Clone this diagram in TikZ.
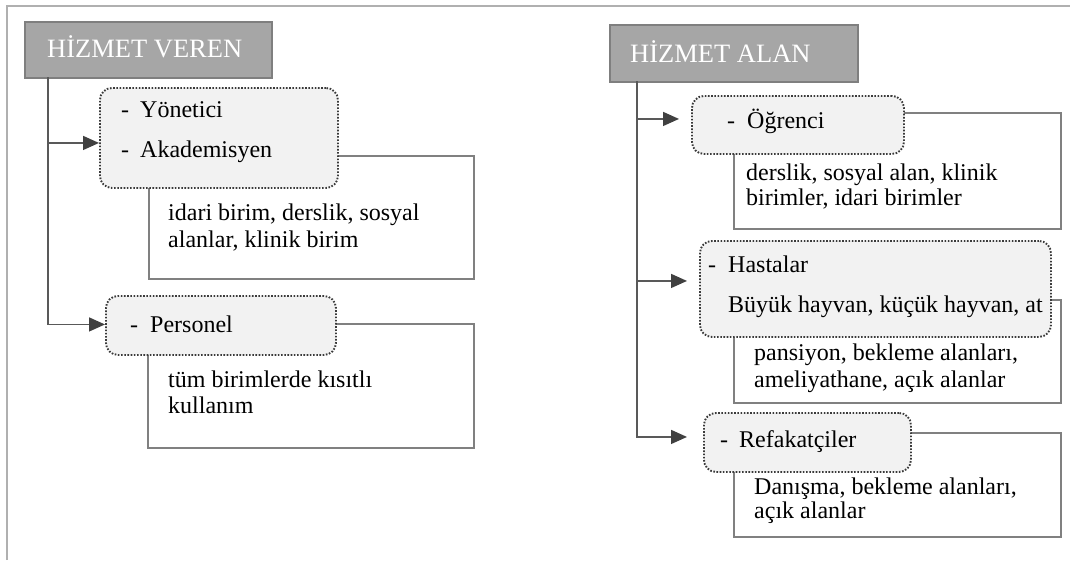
\documentclass[tikz,border=0pt]{standalone}
\usepackage{fontspec}
\setmainfont{Liberation Serif}
\usetikzlibrary{arrows.meta}
\definecolor{hdrfill}{HTML}{A6A6A6}
\definecolor{hdrline}{HTML}{7F7F7F}
\definecolor{rectc}{HTML}{808080}
\definecolor{dotc}{HTML}{3A3A3A}
\definecolor{boxfill}{HTML}{F2F2F2}
\definecolor{connc}{HTML}{595959}
\definecolor{tipc}{HTML}{404040}
\definecolor{framec}{HTML}{B0B0B0}
\begin{document}
\begin{tikzpicture}[x=1pt,y=-1pt,
  hdr/.style={draw=hdrline, line width=2pt, fill=hdrfill, anchor=north west, inner sep=0pt},
  dbox/.style={draw=dotc, line width=1.9pt, dash pattern=on 1.6pt off 1.6pt, fill=boxfill, rounded corners=12pt, anchor=north west, inner sep=0pt},
  rbox/.style={draw=rectc, line width=2pt, anchor=north west, inner sep=0pt},
  txt/.style={anchor=base west, inner sep=0pt, font=\fontsize{24}{27}\selectfont, align=left},
  htxt/.style={anchor=base west, inner sep=0pt, text=white, font=\fontsize{26.5}{30}\selectfont},
  conn/.style={draw=connc, line width=1.5pt},
  arr/.style={conn, -{Triangle[length=16pt,width=14pt,color=tipc]}}]
\useasboundingbox (0,0) rectangle (1070,560);
% outer frame
\draw[framec, line width=2pt] (7,560) -- (7,5.5) -- (1070,5.5);

% ---------- left ----------
\node[hdr, minimum width=247pt, minimum height=56pt] (h1) at (24,21) {};
\node[htxt] (h1t) at (47,57) {HİZMET VEREN};

\node[rbox, minimum width=325pt, minimum height=123pt] (r1) at (148,155) {};
\node[rbox, minimum width=326pt, minimum height=124pt] (r2) at (147,323) {};

\node[dbox, minimum width=238pt, minimum height=100pt] (b1) at (99,87) {};
\node[dbox, minimum width=230pt, minimum height=59pt] (b2) at (105,295) {};

\node[txt] (b1a) at (121,117) {\makebox[19pt][l]{-}Yönetici};
\node[txt] (b1b) at (121,157) {\makebox[19pt][l]{-}Akademisyen};
\node[txt] (b2a) at (130,332) {\makebox[20pt][l]{-}Personel};

\node[txt] (r1t) at (168,220) {idari birim, derslik, sosyal};
\node[txt] (r1u) at (168,247) {alanlar, klinik birim};
\node[txt] (r2t) at (168,387) {tüm birimlerde kısıtlı};
\node[txt] (r2u) at (168,413) {kullanım};

\coordinate (t1) at (48,77);
\draw[arr] (t1) |- ([yshift=-5pt]b1.west);
\draw[arr] (t1) |- ([yshift=1pt]b2.west);

% ---------- right ----------
\node[hdr, minimum width=248pt, minimum height=57pt] (h2) at (609,24) {};
\node[htxt] (h2t) at (630,62) {HİZMET ALAN};

\node[rbox, minimum width=327pt, minimum height=116pt] (r3) at (733,112) {};
\node[rbox, minimum width=327pt, minimum height=103pt] (r4) at (733,299) {};
\node[rbox, minimum width=327pt, minimum height=104pt] (r5) at (733,432) {};

\node[dbox, minimum width=212pt, minimum height=58pt] (b3) at (691,95) {};
\node[dbox, minimum width=351pt, minimum height=96pt] (b4) at (699,240) {};
\node[dbox, minimum width=207pt, minimum height=59pt] (b5) at (703,412) {};

\node[txt] (b3a) at (727,128) {\makebox[20pt][l]{-}Öğrenci};
\node[txt] (b4a) at (708,272) {\makebox[20pt][l]{-}Hastalar};
\node[txt] (b4b) at (728,312) {Büyük hayvan, küçük hayvan, at};
\node[txt] (b5a) at (720,447) {\makebox[19pt][l]{-}Refakatçiler};

\node[txt] (r3t) at (746,180) {derslik, sosyal alan, klinik};
\node[txt] (r3u) at (746,205) {birimler, idari birimler};
\node[txt] (r4t) at (754,360) {pansiyon, bekleme alanları,};
\node[txt] (r4u) at (754,387) {ameliyathane, açık alanlar};
\node[txt] (r5t) at (754,494) {Danışma, bekleme alanları,};
\node[txt] (r5u) at (754,518) {açık alanlar};

\coordinate (t2) at (637,81);
\draw[arr, shorten >=12pt] (t2) |- ([yshift=6pt]b3.west);
\draw[arr, shorten >=12pt] (t2) |- ([yshift=8pt]b4.west);
\draw[arr, shorten >=16pt] (t2) |- ([yshift=5.5pt]b5.west);
\end{tikzpicture}
\end{document}
